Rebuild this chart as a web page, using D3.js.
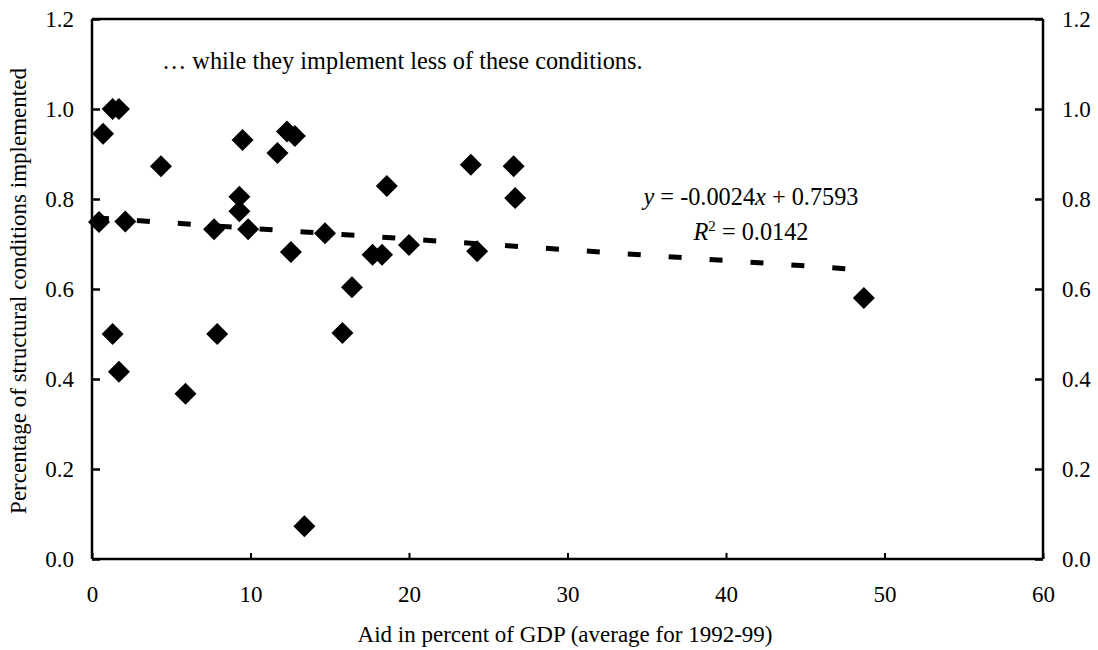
<!DOCTYPE html>
<html><head><meta charset="utf-8">
<script src="https://cdn.jsdelivr.net/npm/d3@7"></script>
<style>body{margin:0;background:#fff}svg{display:block}text{font-family:"Liberation Serif","Times New Roman",serif;fill:#000}</style>
</head><body><svg id="c" width="1098" height="650"></svg>
<script>
const aidX = [0.44,0.7,1.3,1.7,2.1,4.35,9.5,11.7,12.3,12.8,9.3,9.3,7.7,9.85,12.55,1.3,1.7,5.9,7.9,18.6,23.9,26.6,26.7,14.7,17.7,18.3,20.0,24.3,16.4,15.8,13.4,48.7];
const implY = [0.749,0.945,1.0,1.0,0.75,0.873,0.931,0.902,0.95,0.94,0.805,0.773,0.733,0.733,0.682,0.5,0.416,0.367,0.5,0.829,0.876,0.873,0.802,0.724,0.676,0.676,0.698,0.684,0.604,0.502,0.073,0.58];
const xTicks = [0,10,20,30,40,50,60];
const yTicks = [0.0,0.2,0.4,0.6,0.8,1.0,1.2];
const slope = -0.0024, intercept = 0.7593;

const svg = d3.select("#c");
const L=92,R=1043,T=19,B=559;
const FS=23, FA=24.3;
const x = d3.scaleLinear().domain([0,60]).range([L,R]);
const y = d3.scaleLinear().domain([0,1.2]).range([B,T]);

// frame
svg.append("line").attr("x1",L).attr("x2",R).attr("y1",T).attr("y2",T).attr("stroke","#000").attr("stroke-width",2.5);
const ax = svg.append("g").attr("transform",`translate(0,${B})`)
  .call(d3.axisBottom(x).tickValues(xTicks).tickSize(-6).tickPadding(27).tickFormat(d3.format("d")));
const ayl = svg.append("g").attr("transform",`translate(${L},0)`)
  .call(d3.axisLeft(y).tickValues(yTicks).tickSize(-8).tickPadding(18).tickFormat(d3.format(".1f")));
const ayr = svg.append("g").attr("transform",`translate(${R},0)`)
  .call(d3.axisRight(y).tickValues(yTicks).tickSize(-8).tickPadding(19).tickFormat(d3.format(".1f")));
[ax,ayl,ayr].forEach(g=>{
  g.select(".domain").attr("stroke","#000").attr("stroke-width",2.5);
  g.selectAll(".tick line").attr("stroke","#000").attr("stroke-width",2.5);
  g.selectAll("text").attr("font-size",FS).style("font-family","'Liberation Serif',serif");
});
ax.selectAll(".tick line").attr("stroke-width",2);
ax.select(".domain").attr("d",`M${L},0H${R}`);
ayl.select(".domain").attr("d",`M0,${T}V${B}`);
ayr.select(".domain").attr("d",`M0,${T}V${B}`);

// trend line
const x0 = d3.min(aidX), x1 = d3.max(aidX);
svg.append("line").attr("x1",x(x0)-3).attr("y1",y(slope*x0+intercept))
  .attr("x2",x(x1)).attr("y2",y(slope*x1+intercept))
  .attr("stroke","#000").attr("stroke-width",5).attr("stroke-dasharray","13,28");

// points
const h=11;
svg.append("g").selectAll("path").data(aidX.map((v,i)=>[v,implY[i]])).join("path")
  .attr("d",d=>{const cx=x(d[0]),cy=y(d[1]);return `M${cx},${cy-h}L${cx+h},${cy}L${cx},${cy+h}L${cx-h},${cy}Z`;})
  .attr("fill","#000");

// texts
svg.append("text").attr("x",162).attr("y",69).attr("font-size",FA).text("… while they implement less of these conditions.");
const eq = svg.append("text").attr("x",751).attr("y",205).attr("font-size",FA).attr("text-anchor","middle");
eq.append("tspan").attr("font-style","italic").text("y");
eq.append("tspan").text(" = -0.0024");
eq.append("tspan").attr("font-style","italic").text("x");
eq.append("tspan").text(" + 0.7593");
const r2 = svg.append("text").attr("x",751).attr("y",240).attr("font-size",FA).attr("text-anchor","middle");
r2.append("tspan").attr("font-style","italic").text("R");
r2.append("tspan").attr("font-size",15).attr("dy",-9).text("2");
r2.append("tspan").attr("dy",9).text(" = 0.0142");
svg.append("text").attr("x",565).attr("y",642).attr("font-size",FS).attr("text-anchor","middle").text("Aid in percent of GDP (average for 1992-99)");
svg.append("text").attr("transform","translate(26,291) rotate(-90)").attr("font-size",FS).attr("text-anchor","middle").text("Percentage of structural conditions implemented");
</script></body></html>
